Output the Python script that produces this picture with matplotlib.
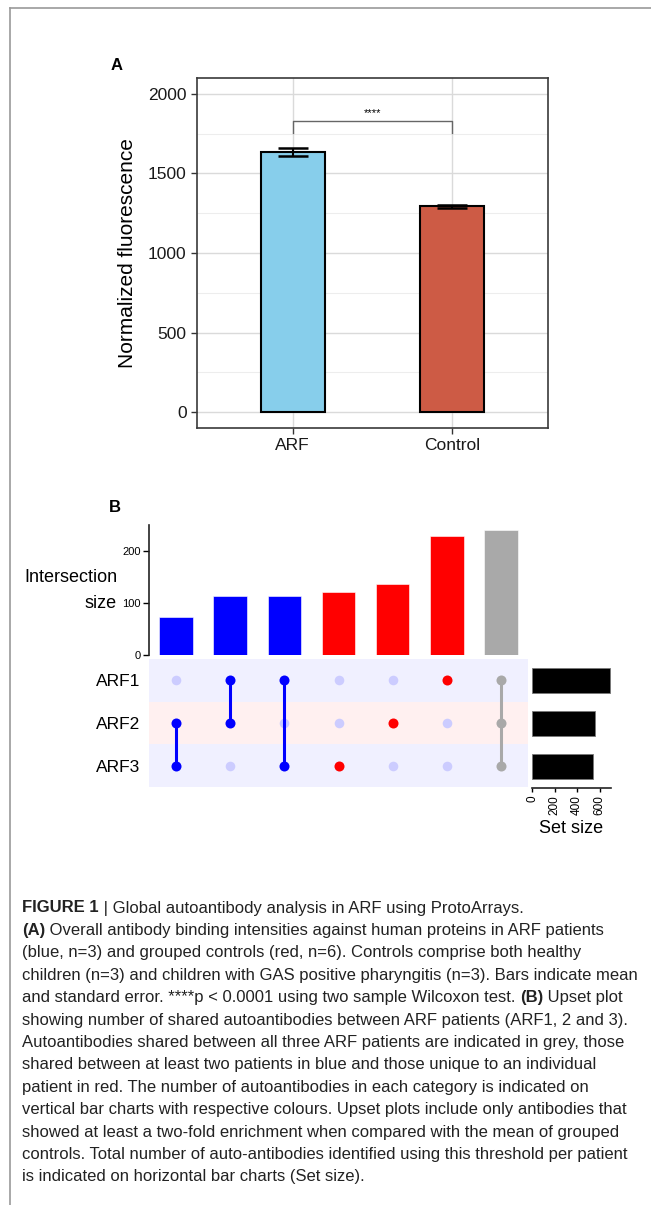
import matplotlib
matplotlib.use("Agg")
import matplotlib.pyplot as plt
from matplotlib import font_manager
from matplotlib.lines import Line2D

# ---- data ----
# panel A
groups = ["ARF", "Control"]
means = [1633, 1293]
sems = [25, 8]
group_colors = ["#87CEEB", "#CD5B45"]

# panel B (upset)
sets = ["ARF1", "ARF2", "ARF3"]
set_sizes = [689, 558, 544]
inter_sizes = [74, 113, 113, 121, 136, 228, 240]
inter_members = [["ARF2", "ARF3"], ["ARF1", "ARF2"], ["ARF1", "ARF3"],
                 ["ARF3"], ["ARF2"], ["ARF1"], ["ARF1", "ARF2", "ARF3"]]
inter_colors = ["#0000FF", "#0000FF", "#0000FF", "#FF0000", "#FF0000", "#FF0000", "#A9A9A9"]

caption = [
    [("FIGURE 1", "bold"), (" | Global autoantibody analysis in ARF using ProtoArrays.", "normal")],
    [("(A)", "bold"), (" Overall antibody binding intensities against human proteins in ARF patients", "normal")],
    [("(blue, n=3) and grouped controls (red, n=6). Controls comprise both healthy", "normal")],
    [("children (n=3) and children with GAS positive pharyngitis (n=3). Bars indicate mean", "normal")],
    [("and standard error. ****p < 0.0001 using two sample Wilcoxon test. ", "normal"), ("(B)", "bold"), (" Upset plot", "normal")],
    [("showing number of shared autoantibodies between ARF patients (ARF1, 2 and 3).", "normal")],
    [("Autoantibodies shared between all three ARF patients are indicated in grey, those", "normal")],
    [("shared between at least two patients in blue and those unique to an individual", "normal")],
    [("patient in red. The number of autoantibodies in each category is indicated on", "normal")],
    [("vertical bar charts with respective colours. Upset plots include only antibodies that", "normal")],
    [("showed at least a two-fold enrichment when compared with the mean of grouped", "normal")],
    [("controls. Total number of auto-antibodies identified using this threshold per patient", "normal")],
    [("is indicated on horizontal bar charts (Set size).", "normal")],
]

installed = {f.name for f in font_manager.fontManager.ttflist}
cap_font = "Liberation Sans Narrow" if "Liberation Sans Narrow" in installed else "Liberation Sans"
plt.rcParams["font.family"] = ["Liberation Sans", "DejaVu Sans"]

W, H = 651, 1205
fig = plt.figure(figsize=(W / 100, H / 100), dpi=100)


def px_axes(x0, y0, x1, y1):
    return fig.add_axes([x0 / W, 1 - y1 / H, (x1 - x0) / W, (y1 - y0) / H])


# frame lines of the page
fig.add_artist(Line2D([10 / W, 10 / W], [0, 1 - 8 / H], color="#9a9a9a", lw=1.2))
fig.add_artist(Line2D([10 / W, 1], [1 - 8 / H, 1 - 8 / H], color="#9a9a9a", lw=1.2))

# ---- panel A ----
ax = px_axes(197, 78, 548, 428)
xpos = [1, 2]
ax.bar(xpos, means, width=0.4, color=group_colors, edgecolor="black", linewidth=1.5, zorder=3)
ax.errorbar(xpos, means, yerr=sems, fmt="none", ecolor="black", elinewidth=1.5,
            capsize=11, capthick=1.8, zorder=4)
ax.set_xlim(0.4, 2.6)
ax.set_ylim(-100, 2100)
ax.set_yticks([0, 500, 1000, 1500, 2000])
ax.set_yticks([250, 750, 1250, 1750], minor=True)
ax.set_xticks(xpos)
ax.set_xticklabels(groups)
ax.grid(True, which="major", color="#DADADA", lw=1.0, zorder=0)
ax.grid(True, which="minor", axis="y", color="#EDEDED", lw=0.8, zorder=0)
ax.tick_params(which="minor", length=0)
ax.tick_params(which="major", length=4, width=1, color="#333333", labelsize=12.5,
               labelcolor="#1a1a1a")
for s in ax.spines.values():
    s.set_color("#3a3a3a")
    s.set_linewidth(1.2)
ax.set_ylabel("Normalized fluorescence", fontsize=15, labelpad=8)
# significance bracket
ax.plot([1, 1, 2, 2], [1757, 1832, 1832, 1757], color="#666666", lw=1.0, zorder=5)
ax.text(1.5, 1850, "****", ha="center", va="bottom", fontsize=8)
fig.text(117 / W, 1 - 65 / H, "A", fontsize=12, fontweight="bold", ha="center", va="center")

# ---- panel B ----
fig.text(115 / W, 1 - 507 / H, "B", fontsize=12, fontweight="bold", ha="center", va="center")
n = len(inter_sizes)

axt = px_axes(149, 525, 528, 655)
axt.bar(range(n), inter_sizes, width=0.62, color=inter_colors, edgecolor="#ffffff",
        linewidth=0.4)
axt.set_xlim(-0.5, n - 0.5)
axt.set_ylim(0, 250)
axt.set_yticks([0, 100, 200])
axt.set_xticks([])
for side in ["top", "right", "bottom"]:
    axt.spines[side].set_visible(False)
axt.spines["left"].set_linewidth(1.2)
axt.spines["left"].set_color("#222222")
axt.tick_params(axis="y", labelsize=8, length=4, width=1, pad=2)
fig.text(117 / W, 1 - 577 / H, "Intersection", fontsize=13, ha="right", va="center")
fig.text(117 / W, 1 - 604 / H, "size", fontsize=13, ha="right", va="center")

axm = px_axes(149, 659, 528, 787)
stripe = ["#F0F0FF", "#FFF0F0", "#F0F0FF"]
for i, c in enumerate(stripe):
    axm.axhspan(i - 0.5, i + 0.5, color=c, lw=0, zorder=0)
for j, members in enumerate(inter_members):
    rows = [sets.index(m) for m in members]
    for i in range(len(sets)):
        if i not in rows:
            axm.scatter(j, i, s=48, color="#CCCCFF", lw=0, zorder=2)
    if len(rows) > 1:
        axm.plot([j, j], [min(rows), max(rows)], color=inter_colors[j], lw=2.2, zorder=3)
    axm.scatter([j] * len(rows), rows, s=52, color=inter_colors[j], lw=0, zorder=4)
axm.set_xlim(-0.5, n - 0.5)
axm.set_ylim(len(sets) - 0.5, -0.5)
axm.set_xticks([])
axm.set_yticks(range(len(sets)))
axm.set_yticklabels(sets)
axm.tick_params(axis="y", length=0, pad=6, labelsize=12.5)
for s in axm.spines.values():
    s.set_visible(False)

axs = px_axes(532, 659, 611, 788)
axs.barh(range(len(sets)), set_sizes, height=0.6, color="black", edgecolor="#777777",
         linewidth=0.6)
axs.set_ylim(len(sets) - 0.5, -0.5)
axs.set_xlim(0, 700)
axs.set_xticks([0, 200, 400, 600])
axs.set_yticks([])
for side in ["top", "right", "left"]:
    axs.spines[side].set_visible(False)
axs.spines["bottom"].set_linewidth(1.2)
axs.spines["bottom"].set_color("#222222")
axs.tick_params(axis="x", labelsize=8.5, length=3, width=1, pad=2, labelrotation=90)
axs.set_xlabel("Set size", fontsize=13, labelpad=4)

# ---- caption ----
renderer = fig.canvas.get_renderer()
y0, dy = 908, 22.4
for k, segs in enumerate(caption):
    x = 22
    y = y0 + k * dy
    for txt, wt in segs:
        t = fig.text(x / W, 1 - y / H, txt, fontsize=12.0, fontweight=wt, family=cap_font,
                     ha="left", va="center", color="#222222")
        bb = t.get_window_extent(renderer=renderer)
        x += bb.width

fig.savefig("out.png", dpi=100)
